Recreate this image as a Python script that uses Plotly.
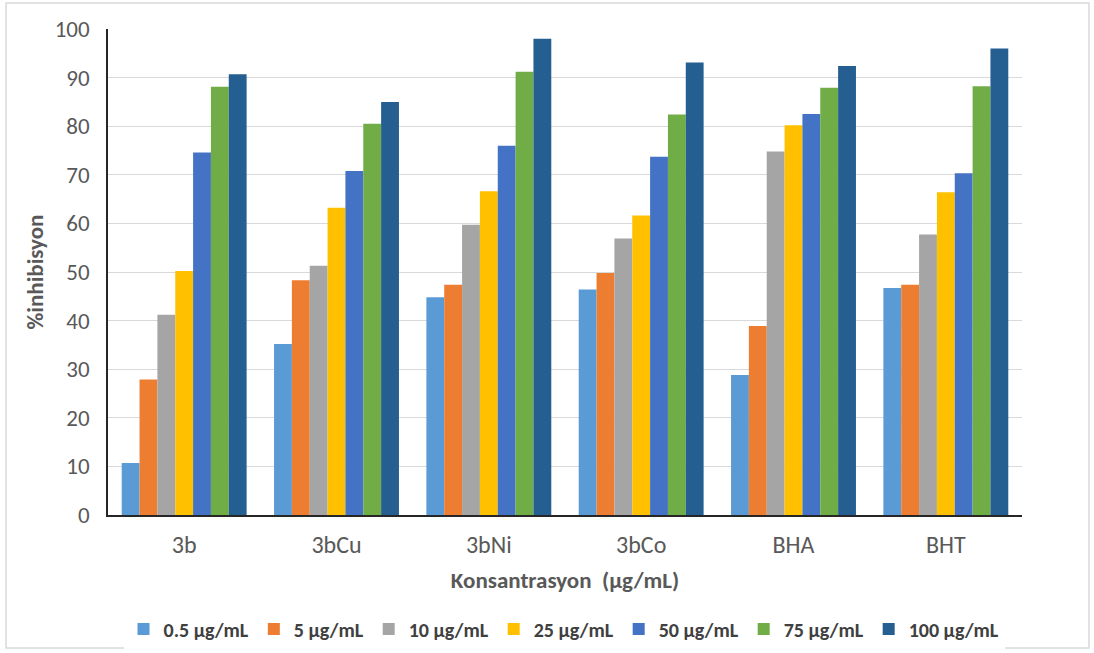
import plotly.graph_objects as go

categories = ["3b", "3bCu", "3bNi", "3bCo", "BHA", "BHT"]
series_names = ["0.5 µg/mL", "5 µg/mL", "10 µg/mL", "25 µg/mL", "50 µg/mL", "75 µg/mL", "100 µg/mL"]
v_0_5 = [10.7, 35.2, 44.8, 46.4, 28.8, 46.7]
v_5 = [27.9, 48.3, 47.4, 49.8, 38.9, 47.4]
v_10 = [41.2, 51.3, 59.7, 56.9, 74.8, 57.7]
v_25 = [50.2, 63.2, 66.6, 61.6, 80.2, 66.4]
v_50 = [74.6, 70.8, 76.0, 73.7, 82.5, 70.3]
v_75 = [88.1, 80.5, 91.2, 82.4, 87.9, 88.2]
v_100 = [90.7, 85.0, 98.0, 93.1, 92.4, 96.0]
series_values = [v_0_5, v_5, v_10, v_25, v_50, v_75, v_100]
colors = ["#5B9BD5", "#ED7D31", "#A5A5A5", "#FFC000", "#4472C4", "#70AD47", "#255E91"]

FONT = "Carlito, Calibri, Lato, sans-serif"

fig = go.Figure()
for name, vals, c in zip(series_names, series_values, colors):
    fig.add_trace(go.Bar(x=categories, y=vals, name=name, marker_color=c,
                         marker_line_width=0))

W, H = 1094, 653
ml, mr, mt, mb = 108, 72, 29, 138
pw, ph = W - ml - mr, H - mt - mb

def px_x(px):
    return (px - ml) / pw

def px_y(py):
    return (H - mb - py) / ph

fig.update_layout(
    width=W, height=H,
    margin=dict(l=ml, r=mr, t=mt, b=mb, autoexpand=False),
    paper_bgcolor="white", plot_bgcolor="white",
    barmode="group", bargap=0.18, bargroupgap=0,
    font=dict(family=FONT, color="#595959"),
    showlegend=True,
    legend=dict(orientation="h", x=px_x(564), xanchor="center",
                y=px_y(629), yanchor="middle",
                font=dict(size=20, color="#404040", family=FONT, weight="bold"),
                itemwidth=30, traceorder="normal", tracegroupgap=0),
    xaxis=dict(showline=True, linecolor="#262626", linewidth=1.5,
               tickfont=dict(size=24, color="#595959"), ticks="",
               automargin=False, ticklabelstandoff=7,
               title=dict(text="<b>Konsantrasyon  (µg/mL)</b>",
                          font=dict(size=23, color="#595959"), standoff=14)),
    yaxis=dict(range=[0, 100], dtick=10, showline=True, linecolor="#262626",
               linewidth=1.5, gridcolor="#D9D9D9", gridwidth=1,
               tickfont=dict(size=23, color="#595959"), ticks="",
               automargin=False, ticklabelstandoff=12,
               title=dict(text="<b>%inhibisyon</b>",
                          font=dict(size=23, color="#595959"), standoff=5)),
    shapes=[dict(type="rect", xref="paper", yref="paper",
                 x0=px_x(6), x1=px_x(1089), y0=px_y(648), y1=px_y(3),
                 line=dict(color="#D9D9D9", width=1.5), layer="below")],
)

fig.write_html("out.html", config={"displayModeBar": False},
               post_script="document.body.style.margin='0';")
